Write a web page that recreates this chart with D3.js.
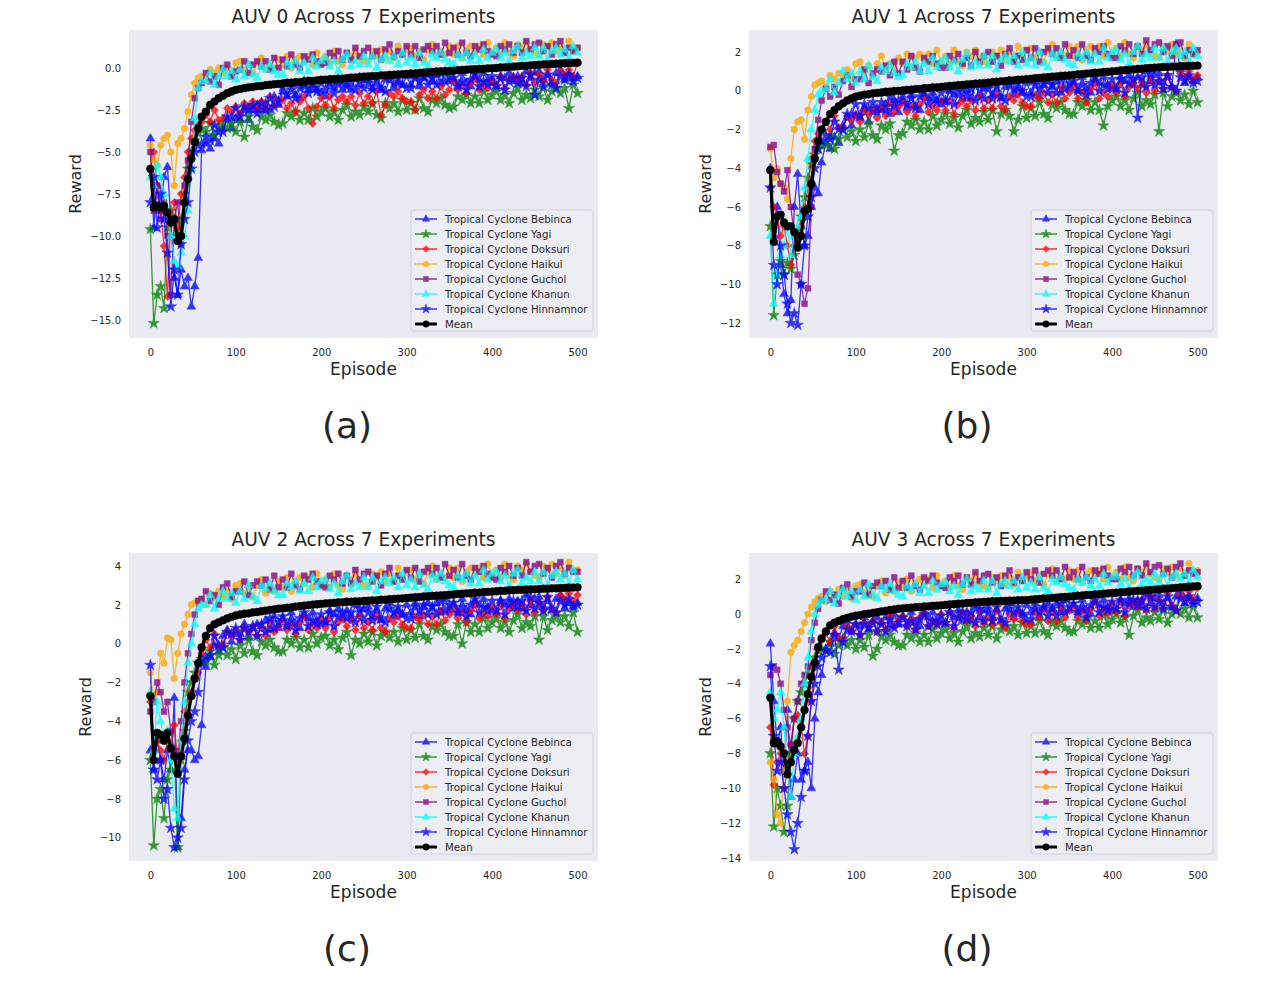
<html>
<head>
    <meta charset="utf-8">
    <title>AUV Reward Across 7 Experiments</title>
</head>

<style>
    body { margin: 0; background: #ffffff; }
    text { font-family: "DejaVu Sans", sans-serif; fill: #262626; }
</style>
<body>
<svg width="1269" height="990"></svg>

<script src="https://d3js.org/d3.v7.min.js" charset="utf-8"></script>
<script>

    var episodes = [0, 4, 8, 12, 16, 20, 24, 28, 32, 36, 40, 44, 48, 52, 56, 60,
        65, 70, 75, 80, 85, 90, 95, 100,
        105, 110, 115, 120, 125, 130, 135, 140, 145, 150,
        155, 160, 165, 170, 175, 180, 185, 190, 195, 200,
        205, 210, 215, 220, 225, 230, 235, 240, 245, 250,
        255, 260, 265, 270, 275, 280, 285, 290, 295, 300,
        305, 310, 315, 320, 325, 330, 335, 340, 345, 350,
        355, 360, 365, 370, 375, 380, 385, 390, 395, 400,
        405, 410, 415, 420, 425, 430, 435, 440, 445, 450,
        455, 460, 465, 470, 475, 480, 485, 490, 495, 500];

    var seriesNames = ['Tropical Cyclone Bebinca', 'Tropical Cyclone Yagi', 'Tropical Cyclone Doksuri',
        'Tropical Cyclone Haikui', 'Tropical Cyclone Guchol', 'Tropical Cyclone Khanun',
        'Tropical Cyclone Hinnamnor', 'Mean'];

    var xTicks = [0, 100, 200, 300, 400, 500];
    var yTicksAuv0 = [-15, -12.5, -10, -7.5, -5, -2.5, 0];
    var yTicksAuv1 = [-12, -10, -8, -6, -4, -2, 0, 2];
    var yTicksAuv2 = [-10, -8, -6, -4, -2, 0, 2, 4];
    var yTicksAuv3 = [-14, -12, -10, -8, -6, -4, -2, 0, 2];

    // ---- AUV 0 ----
    var auv0Bebinca = [-4.2,-9.5,-7.0,-8.5,-6.5,-5.9,-9.0,-12.5,-13.5,-12.0,-13.0,-12.5,-14.2,-13.0,-11.3,-4.9,
        -4.5,-4.8,-4.2,-4.5,-3.6,-3.1,-3.6,-3.0,
        -3.1,-2.5,-3.1,-2.5,-2.2,-2.5,-2.1,-2.5,-1.7,-2.2,
        -1.4,-1.7,-1.0,-1.6,-1.8,-1.1,-1.3,-1.0,-1.3,-1.5,
        -1.7,-1.0,-1.2,-0.8,-1.3,-1.0,-1.3,-0.6,-1.0,-0.7,
        -0.7,-1.2,-0.9,-1.3,-0.7,-0.5,-1.2,-0.9,-1.0,-0.5,
        -1.0,-0.5,-1.1,-0.6,-0.4,-0.8,-0.4,-0.9,-0.2,-0.8,
        -0.7,-1.1,-0.3,-0.9,-1.1,-0.5,-0.7,-0.3,-0.7,-0.9,
        -1.1,-0.5,-0.6,-0.3,-0.8,-0.5,-0.9,-0.2,-0.6,-0.3,
        -0.2,-0.7,-0.4,-0.9,-0.3,-0.1,-0.7,-0.4,-0.6,-0.5];
    var auv0Yagi = [-9.6,-15.2,-13.5,-13.0,-14.3,-9.5,-8.5,-9.0,-10.0,-9.0,-7.5,-6.0,-5.0,-4.3,-3.9,-3.6,
        -3.8,-3.3,-4.0,-3.5,-3.2,-3.6,-3.3,-3.8,
        -3.2,-4.1,-2.9,-3.5,-3.7,-2.9,-3.1,-2.8,-3.2,-3.4,
        -3.3,-2.7,-2.9,-2.6,-3.1,-2.7,-3.1,-2.4,-2.9,-2.6,
        -2.4,-2.9,-2.6,-3.1,-2.5,-2.2,-2.9,-2.6,-2.8,-2.3,
        -2.6,-2.1,-2.8,-3.0,-2.1,-2.4,-2.1,-2.6,-1.9,-2.5,
        -2.1,-2.5,-1.8,-2.4,-2.6,-1.9,-2.1,-1.8,-2.2,-2.4,
        -2.3,-1.7,-1.9,-1.6,-2.1,-1.7,-2.1,-1.4,-1.9,-1.6,
        -1.4,-1.9,-1.6,-2.1,-1.5,-1.2,-1.9,-1.6,-1.8,-1.3,
        -1.7,-1.2,-1.9,-1.4,-1.2,-1.5,-1.2,-2.4,-1.0,-1.5];
    var auv0Doksuri = [-6.0,-5.0,-7.0,-8.5,-10.6,-13.6,-9.0,-8.0,-9.5,-7.5,-6.5,-5.0,-4.2,-3.7,-3.4,-3.2,
        -2.8,-3.2,-2.5,-3.1,-3.0,-2.4,-2.6,-2.3,
        -2.7,-2.1,-2.3,-2.0,-2.5,-2.0,-2.4,-1.7,-2.2,-1.9,
        -1.9,-2.4,-2.1,-2.6,-2.0,-1.7,-2.4,-3.3,-2.3,-1.8,
        -2.2,-1.7,-2.4,-1.9,-1.7,-2.0,-1.7,-2.2,-1.5,-2.1,
        -1.7,-2.1,-1.4,-2.8,-2.2,-1.5,-1.7,-1.4,-1.8,-2.0,
        -2.0,-2.5,-1.6,-1.3,-1.8,-1.4,-1.8,-1.1,-1.6,-1.3,
        -0.8,-1.3,-1.0,-1.5,-0.9,-0.6,-1.3,-1.0,-1.2,-0.7,
        -1.0,-0.5,-1.2,-0.7,-0.5,-0.8,-0.5,-1.0,-0.3,-0.9,
        -0.4,-0.8,-0.1,-0.7,-0.9,-0.2,-0.4,-0.1,-0.5,0.3];
    var auv0Haikui = [-4.6,-5.5,-5.8,-4.6,-4.2,-4.0,-5.0,-7.0,-4.5,-4.2,-3.6,-2.6,-1.6,-0.9,-0.6,-0.5,
        -0.7,-0.1,-0.3,0.0,-0.3,0.0,-0.4,0.3,
        0.4,-0.1,0.2,-0.3,0.3,0.6,-0.1,0.2,0.0,0.5,
        0.2,0.7,0.0,0.5,0.7,0.4,0.7,0.2,0.9,0.3,
        0.7,0.3,1.0,0.4,0.2,0.9,0.7,1.0,0.6,0.4,
        0.4,1.0,0.8,1.1,0.6,1.0,0.6,1.3,0.8,1.1,
        1.2,0.7,1.0,0.5,1.1,1.4,0.7,1.0,0.8,1.3,
        0.8,1.3,0.6,1.1,1.3,1.0,1.3,0.8,1.5,0.9,
        1.2,0.8,1.5,0.9,0.7,1.4,1.2,1.5,1.1,0.9,
        0.8,1.4,1.2,1.5,1.0,1.3,0.9,1.6,1.1,1.2];
    var auv0Guchol = [-5.0,-8.5,-7.0,-9.0,-8.0,-10.0,-13.5,-9.0,-8.0,-10.5,-7.0,-5.5,-3.2,-1.8,-1.2,-0.9,
        -0.3,-0.8,-0.5,-1.0,0.0,0.2,-0.5,-0.2,
        -0.1,0.4,-0.3,0.2,0.4,0.1,0.4,-0.1,0.6,0.0,
        0.5,0.1,0.8,0.2,0.0,0.7,0.5,0.8,0.4,0.2,
        0.3,0.9,0.7,1.0,0.5,0.9,0.5,1.2,0.7,1.0,
        1.2,0.7,1.0,0.5,1.1,1.4,0.7,1.0,0.8,1.3,
        0.8,1.3,0.6,1.1,1.3,1.0,1.3,0.8,1.5,0.9,
        1.2,0.8,1.5,0.9,0.7,1.3,1.1,1.4,1.0,0.8,
        0.7,1.3,1.1,1.4,0.9,1.3,0.9,1.6,1.1,1.4,
        1.5,1.0,1.3,0.8,1.4,1.6,0.9,1.2,1.0,1.2];
    var auv0Khanun = [-6.5,-7.0,-5.8,-6.5,-7.5,-8.5,-10.0,-11.5,-11.8,-11.0,-10.0,-8.5,-6.0,-3.0,-1.2,-0.8,
        -0.8,-0.3,-1.0,-0.5,-0.1,-0.5,-0.2,-0.7,
        -0.1,-0.5,0.2,-0.4,-0.6,0.1,-0.1,0.2,-0.2,-0.4,
        -0.4,0.3,0.1,0.4,-0.2,0.3,-0.2,0.6,0.1,0.4,
        0.6,0.1,0.4,-0.2,0.5,0.8,0.1,0.4,0.2,0.7,
        0.2,0.7,0.0,0.5,0.7,0.4,0.7,0.2,0.9,0.3,
        0.6,0.2,0.9,0.3,0.1,0.8,0.6,0.9,0.5,0.3,
        0.2,0.8,0.6,0.9,0.4,0.8,0.4,1.1,0.6,0.9,
        1.1,0.6,0.9,0.4,1.0,1.3,0.6,0.9,0.7,1.2,
        0.7,1.2,0.5,1.0,1.2,0.8,1.1,0.6,1.3,0.9];
    var auv0Hinnamnor = [-8.0,-6.5,-9.5,-7.5,-9.0,-11.0,-14.2,-12.0,-13.5,-10.5,-9.0,-8.0,-6.0,-5.0,-4.6,-4.5,
        -4.1,-4.3,-3.4,-3.8,-3.8,-2.9,-2.9,-2.4,
        -2.9,-2.3,-2.5,-2.2,-2.7,-2.1,-2.5,-1.8,-2.3,-2.0,
        -1.1,-1.6,-1.3,-1.8,-1.2,-0.8,-1.5,-1.2,-1.4,-0.9,
        -1.3,-0.8,-1.5,-1.0,-0.8,-1.1,-0.8,-1.3,-0.6,-1.2,
        -0.9,-1.3,-0.6,-1.2,-1.4,-0.7,-0.9,-0.6,-1.0,-1.2,
        -1.2,-0.6,-0.8,-0.5,-1.0,-0.6,-1.0,-0.3,-0.8,-0.5,
        -0.6,-1.1,-0.8,-1.3,-0.7,-0.4,-1.1,-0.8,-1.0,-0.5,
        -1.1,-0.6,-1.3,-0.8,-0.6,-0.9,-0.6,-1.1,-0.4,-1.6,
        -0.7,-1.1,-0.4,-1.0,-1.2,-0.5,-0.7,-0.4,-0.8,-0.6];
    var auv0Mean = [-6.0,-8.3,-8.2,-8.3,-8.2,-8.6,-9.2,-9.0,-10.3,-10.0,-8.0,-6.6,-5.4,-4.4,-3.6,-2.9,
        -2.6,-2.2,-2.0,-1.8,-1.65,-1.5,-1.4,-1.3,
        -1.25,-1.2,-1.15,-1.13,-1.08,-1.07,-1.02,-1.0,-0.97,-0.95,
        -0.92,-0.88,-0.88,-0.84,-0.84,-0.8,-0.76,-0.77,-0.74,-0.7,
        -0.7,-0.67,-0.66,-0.63,-0.63,-0.6,-0.57,-0.57,-0.54,-0.51,
        -0.5,-0.48,-0.48,-0.44,-0.44,-0.41,-0.4,-0.39,-0.37,-0.36,
        -0.33,-0.32,-0.29,-0.28,-0.25,-0.24,-0.21,-0.2,-0.19,-0.17,
        -0.16,-0.13,-0.12,-0.1,-0.08,-0.07,-0.05,-0.05,-0.02,-0.02,
        0.0,0.03,0.04,0.07,0.08,0.1,0.13,0.13,0.16,0.18,
        0.19,0.21,0.22,0.24,0.25,0.27,0.28,0.3,0.3,0.32];

    // ---- AUV 1 ----
    var auv1Bebinca = [-4.0,-7.5,-6.0,-9.0,-10.5,-11.5,-10.8,-6.0,-4.3,-7.0,-8.0,-7.5,-6.0,-5.0,-5.3,-3.7,
        -2.7,-3.0,-2.4,-2.7,-1.8,-1.4,-1.8,-1.3,
        -1.4,-0.9,-1.6,-1.1,-0.9,-1.0,-0.7,-1.2,-0.5,-1.1,
        -0.5,-0.9,-0.2,-0.8,-1.0,-0.2,-0.4,-0.1,-0.5,-0.7,
        -0.6,0.0,-0.2,0.1,-0.4,0.0,-0.4,0.3,-0.2,0.1,
        0.3,-0.2,0.1,-0.4,0.2,0.5,-0.2,0.1,-0.1,0.4,
        -0.1,0.5,-0.3,0.3,0.5,0.2,0.5,-0.1,0.7,0.1,
        0.4,0.0,0.7,0.1,-0.1,0.6,0.4,0.7,0.3,0.1,
        0.1,0.7,0.5,0.8,0.3,0.7,0.3,1.0,0.5,0.8,
        0.9,0.4,0.7,0.2,2.4,1.1,0.4,0.7,0.5,0.7];
    var auv1Yagi = [-7.0,-11.6,-9.5,-8.8,-9.5,-8.9,-9.2,-8.5,-7.5,-6.5,-5.5,-4.5,-3.8,-3.3,-3.0,-2.8,
        -2.8,-2.3,-3.0,-2.5,-2.0,-2.4,-2.1,-2.6,
        -2.0,-2.4,-1.7,-2.3,-2.5,-1.8,-2.0,-1.7,-3.1,-2.3,
        -2.2,-1.6,-1.8,-1.5,-2.0,-1.6,-2.0,-1.3,-1.8,-1.5,
        -1.2,-1.7,-1.4,-1.9,-1.3,-1.0,-1.7,-1.4,-1.6,-1.1,
        -1.5,-1.0,-2.1,-1.2,-1.0,-1.3,-2.1,-1.5,-0.8,-1.4,
        -0.9,-1.3,-0.6,-1.2,-1.4,-0.7,-0.9,-0.6,-1.0,-1.2,
        -1.2,-0.6,-0.8,-0.5,-1.0,-0.6,-1.0,-1.8,-0.8,-0.5,
        -0.3,-0.8,-0.5,-1.0,-0.4,-0.1,-0.8,-0.5,-0.7,-0.2,
        -2.1,-0.1,-0.8,-0.3,-0.1,-0.5,-0.2,-0.7,0.0,-0.6];
    var auv1Doksuri = [-5.0,-6.0,-6.5,-7.5,-7.0,-8.0,-9.0,-8.0,-7.5,-7.0,-6.0,-5.0,-3.5,-2.6,-2.2,-2.0,
        -1.6,-2.0,-1.3,-1.9,-1.9,-1.3,-1.5,-1.2,
        -1.6,-1.0,-1.2,-0.9,-1.4,-0.9,-1.3,-0.6,-1.1,-0.8,
        -0.6,-1.1,-0.8,-1.3,-0.7,-0.4,-1.1,-0.8,-1.0,-0.5,
        -1.0,-0.5,-1.2,-0.7,-0.5,-0.8,-0.5,-1.0,-0.3,-0.9,
        -0.5,-0.9,-0.2,-0.8,-1.0,-0.3,-0.5,-0.2,-0.6,-0.8,
        -0.8,-0.2,-0.4,-0.1,-0.6,-0.2,-0.6,0.2,-0.4,-0.1,
        0.2,-0.4,-0.1,-0.6,0.1,0.4,-0.4,-0.1,-0.3,0.3,
        -0.1,0.4,-0.3,0.2,0.4,0.1,0.4,-0.1,0.6,0.0,
        0.5,0.1,0.8,0.2,0.0,0.9,0.7,1.0,0.6,0.8];
    var auv1Haikui = [-3.0,-4.5,-4.0,-4.8,-5.0,-5.6,-3.5,-2.0,-1.6,-1.5,-2.5,-1.0,-0.3,0.3,0.4,0.5,
        0.2,0.8,0.6,0.9,0.8,1.1,0.7,1.4,
        1.5,1.0,1.3,0.8,1.4,1.8,1.1,1.4,1.2,1.7,
        1.4,1.9,1.2,1.7,1.9,1.6,1.9,1.4,2.1,1.5,
        1.8,1.4,2.1,1.5,1.3,2.0,1.8,2.1,1.7,1.5,
        1.4,2.0,1.8,2.1,1.6,2.0,1.6,2.3,1.8,2.1,
        2.2,1.7,2.0,1.5,2.1,2.4,1.7,2.0,1.8,2.3,
        1.8,2.3,1.6,2.1,2.3,2.0,2.3,1.8,2.5,1.9,
        2.2,1.8,2.5,1.9,1.7,2.3,2.1,2.4,2.0,1.8,
        1.7,2.3,2.1,2.4,1.9,2.1,1.7,2.4,1.9,2.0];
    var auv1Guchol = [-2.9,-2.8,-4.2,-4.8,-5.2,-4.1,-6.0,-7.5,-9.5,-10.0,-11.0,-10.2,-6.0,-3.0,-1.5,-0.5,
        0.1,-0.3,0.2,-0.2,0.5,0.8,0.2,0.6,
        0.6,1.1,0.4,0.9,1.1,1.0,1.3,0.8,1.5,0.9,
        1.5,1.1,1.8,1.2,1.0,1.7,1.5,1.8,1.4,1.2,
        1.2,1.8,1.6,1.9,1.4,1.7,1.3,2.0,1.5,1.8,
        2.0,1.5,1.8,1.3,1.9,2.2,1.5,1.8,1.6,2.1,
        1.7,2.2,1.5,2.0,2.2,1.9,2.2,1.7,2.4,1.8,
        2.1,1.7,2.4,1.8,1.6,2.2,2.0,2.3,1.9,1.7,
        1.7,2.3,2.1,2.4,1.9,2.3,1.9,2.6,2.1,2.4,
        2.5,2.0,2.3,1.8,2.4,2.5,1.8,2.1,1.9,2.1];
    var auv1Khanun = [-7.5,-11.0,-9.5,-8.5,-8.0,-7.0,-8.5,-7.5,-7.0,-6.5,-5.0,-3.5,-2.0,-1.0,-0.2,0.0,
        0.1,0.6,-0.1,0.4,1.0,0.6,0.9,0.4,
        1.0,0.6,1.3,0.7,0.5,1.2,1.0,1.3,0.9,0.7,
        0.8,1.4,1.2,1.5,1.0,1.4,1.0,1.7,1.2,1.5,
        1.7,1.2,1.5,1.0,1.6,1.9,1.2,1.5,1.3,1.8,
        1.3,1.8,1.1,1.6,1.8,1.5,1.8,1.3,2.0,1.4,
        1.7,1.3,2.0,1.4,1.2,1.9,1.7,2.0,1.6,1.4,
        1.3,1.9,1.7,2.0,1.5,1.9,1.5,2.2,1.7,2.0,
        2.1,1.6,1.9,1.4,2.0,2.3,1.6,1.9,1.7,2.2,
        1.7,2.2,1.5,2.0,2.2,1.8,2.0,1.5,2.2,1.8];
    var auv1Hinnamnor = [-5.0,-9.0,-10.0,-8.0,-9.5,-11.0,-12.0,-11.5,-12.1,-10.0,-8.0,-6.5,-5.5,-4.0,-3.0,-2.6,
        -2.3,-2.5,-1.6,-2.0,-2.0,-1.2,-1.2,-0.7,
        -1.3,-0.7,-0.9,-0.6,-1.1,-0.6,-1.0,-0.3,-0.8,-0.5,
        -0.2,-0.7,-0.4,-0.9,-0.3,0.0,-0.7,-0.4,-0.6,-0.1,
        -0.5,0.1,-0.7,-0.2,0.1,-0.3,0.1,-0.5,0.3,-0.4,
        0.1,-0.4,0.4,-0.3,-0.5,0.3,0.1,0.4,0.0,-0.3,
        -0.3,0.3,0.1,0.4,-0.1,0.3,-0.1,0.6,0.1,0.4,
        0.5,0.0,0.3,-0.2,0.4,0.7,0.0,0.3,0.1,0.6,
        0.1,0.6,-0.1,0.4,0.6,-1.4,0.7,0.2,0.9,0.3,
        0.5,0.1,0.8,0.2,0.0,0.7,0.5,0.8,0.4,0.5];
    var auv1Mean = [-4.1,-7.8,-6.5,-6.4,-6.8,-7.0,-7.0,-7.3,-8.1,-7.5,-6.2,-6.1,-4.8,-3.5,-2.6,-2.0,
        -1.6,-1.2,-1.0,-0.8,-0.65,-0.5,-0.4,-0.3,
        -0.25,-0.2,-0.18,-0.13,-0.11,-0.09,-0.05,-0.04,-0.01,0.0,
        0.02,0.05,0.06,0.09,0.1,0.13,0.14,0.17,0.18,0.2,
        0.22,0.25,0.26,0.29,0.3,0.33,0.34,0.37,0.38,0.4,
        0.42,0.45,0.46,0.49,0.5,0.53,0.54,0.57,0.58,0.6,
        0.62,0.65,0.66,0.69,0.7,0.73,0.74,0.77,0.78,0.8,
        0.82,0.85,0.86,0.89,0.9,0.93,0.94,0.97,0.98,1.0,
        1.02,1.05,1.06,1.09,1.1,1.13,1.14,1.17,1.18,1.2,
        1.21,1.23,1.23,1.25,1.25,1.27,1.27,1.29,1.29,1.3];

    // ---- AUV 2 ----
    var auv2Bebinca = [-5.5,-6.5,-5.0,-6.0,-7.0,-5.5,-6.5,-2.8,-10.5,-9.0,-6.5,-5.5,-5.5,-6.0,-5.8,-4.2,
        -1.2,-0.7,-0.1,-0.4,0.4,0.7,0.1,0.5,
        0.5,1.0,0.3,0.8,1.0,0.9,1.2,0.7,1.4,0.8,
        1.3,0.9,1.6,1.0,0.8,1.5,1.3,1.6,1.2,1.0,
        1.1,1.7,1.5,1.8,1.3,1.7,1.3,2.0,1.5,1.8,
        1.9,1.4,1.7,1.2,1.8,2.1,1.4,1.7,1.5,2.0,
        1.6,2.1,1.4,1.9,2.1,1.8,2.1,1.6,2.3,1.7,
        2.0,1.6,2.3,1.7,1.5,2.2,2.0,2.3,1.9,1.7,
        1.6,2.2,2.0,2.3,1.8,2.2,1.8,2.5,2.0,2.3,
        2.4,1.9,2.2,1.7,2.3,2.5,1.8,2.1,1.9,2.1];
    var auv2Yagi = [-6.0,-10.4,-8.0,-7.5,-9.0,-7.0,-6.5,-5.5,-10.5,-6.0,-4.5,-2.5,-2.0,-1.5,-1.0,-0.8,
        -0.9,-0.4,-1.1,-0.6,-0.2,-0.6,-0.3,-0.8,
        -0.1,-0.5,0.2,-0.4,-0.6,0.1,-0.1,0.2,-0.2,-0.4,
        -0.4,0.2,0.0,0.3,-0.2,0.2,-0.2,0.5,0.0,0.3,
        0.4,-0.1,0.2,-0.3,0.3,0.6,-0.6,0.2,0.0,0.5,
        0.1,0.6,-0.1,0.4,0.6,0.3,0.6,0.1,0.8,0.2,
        0.7,0.3,1.0,0.4,0.2,0.9,0.7,1.0,0.6,0.4,
        0.4,1.0,0.0,1.1,0.6,1.0,0.6,1.3,0.8,1.1,
        1.3,0.8,1.1,0.6,1.2,1.5,0.8,1.1,0.9,1.4,
        0.2,1.4,0.7,1.2,1.4,1.1,1.4,0.9,1.6,0.6];
    var auv2Doksuri = [-3.0,-5.5,-5.0,-5.5,-6.0,-5.0,-5.5,-4.2,-6.0,-5.0,-3.5,-3.0,-2.5,-1.7,-1.5,-0.5,
        0.2,-0.2,0.5,-0.1,0.0,0.6,0.4,0.7,
        0.2,0.8,0.6,0.9,0.4,0.8,0.4,1.1,0.6,0.9,
        1.2,0.7,1.0,0.5,1.1,1.4,0.7,1.0,0.8,1.3,
        0.8,1.3,0.6,1.1,1.3,0.9,1.2,0.7,1.4,0.8,
        1.1,0.7,1.4,0.8,0.6,1.3,1.1,1.4,1.0,0.8,
        0.8,1.4,1.2,1.5,1.0,1.4,1.0,1.7,1.2,1.5,
        1.8,1.3,1.6,1.1,1.7,2.0,1.3,1.6,1.4,1.9,
        1.5,2.0,1.3,1.8,2.0,1.7,2.0,1.5,2.2,1.6,
        2.1,1.7,2.4,1.8,1.6,2.5,2.3,2.6,2.2,2.5];
    var auv2Haikui = [-1.5,-3.0,-2.5,-0.5,-1.0,0.3,0.2,-1.8,-0.5,0.5,1.0,1.5,2.0,2.1,2.2,2.3,
        2.0,2.6,2.4,2.7,2.4,2.7,2.3,3.0,
        3.1,2.6,2.9,2.4,3.0,3.3,2.6,2.9,2.7,3.2,
        2.9,3.4,2.7,3.2,3.4,3.1,3.4,2.9,3.6,3.0,
        3.3,2.9,3.6,3.0,2.8,3.5,3.3,3.6,3.2,3.0,
        3.0,3.6,3.4,3.7,3.2,3.6,3.2,3.9,3.4,3.7,
        3.8,3.3,3.6,3.1,3.7,4.0,3.3,3.6,3.4,3.9,
        3.4,3.9,3.2,3.7,3.9,3.6,3.9,3.4,4.1,3.5,
        3.8,3.4,4.1,3.5,3.3,4.0,3.8,4.1,3.7,3.5,
        3.4,4.0,3.8,4.1,3.6,3.9,3.5,4.2,3.7,3.8];
    var auv2Guchol = [-3.5,-3.0,-2.0,-2.5,-3.5,-3.0,-4.5,-5.5,-6.0,-4.0,-2.0,-0.5,0.5,1.5,2.2,2.3,
        2.7,2.2,2.5,2.0,2.9,3.1,2.4,2.7,
        2.7,3.2,2.5,3.0,3.2,3.0,3.3,2.8,3.5,2.9,
        3.3,2.9,3.6,3.0,2.8,3.5,3.3,3.6,3.2,3.0,
        2.9,3.5,3.3,3.6,3.1,3.5,3.1,3.8,3.3,3.6,
        3.7,3.2,3.5,3.0,3.6,3.9,3.2,3.5,3.3,3.8,
        3.4,3.9,3.2,3.7,3.9,3.6,3.9,3.4,4.1,3.5,
        3.8,3.4,4.1,3.5,3.3,3.9,3.7,4.0,3.6,3.4,
        3.3,3.9,3.7,4.0,3.5,3.9,3.5,4.2,3.7,4.0,
        4.1,3.6,3.9,3.4,4.0,4.2,3.6,3.9,3.7,3.7];
    var auv2Khanun = [-2.5,-5.5,-3.0,-4.0,-5.0,-4.5,-6.0,-8.5,-9.0,-5.0,-3.0,-1.0,0.0,1.0,1.8,2.0,
        2.0,2.5,1.8,2.3,2.7,2.3,2.6,2.1,
        2.7,2.3,3.0,2.4,2.2,3.0,2.8,3.1,2.7,2.5,
        2.5,3.1,2.9,3.2,2.7,3.1,2.7,3.4,2.9,3.2,
        3.3,2.8,3.1,2.6,3.2,3.5,2.8,3.1,2.9,3.4,
        2.9,3.4,2.7,3.2,3.4,3.1,3.4,2.9,3.6,3.0,
        3.3,2.9,3.6,3.0,2.8,3.5,3.3,3.6,3.2,3.0,
        2.9,3.5,3.3,3.6,3.1,3.5,3.1,3.8,3.3,3.6,
        3.7,3.2,3.5,3.0,3.6,3.8,3.1,3.4,3.2,3.7,
        3.2,3.7,3.0,3.5,3.7,3.3,3.6,3.1,3.8,3.3];
    var auv2Hinnamnor = [-1.1,-6.5,-7.0,-6.0,-8.0,-7.5,-9.5,-10.5,-10.0,-9.5,-7.0,-5.0,-4.0,-3.5,-2.5,-1.0,
        -0.7,-0.6,0.4,-0.1,-0.2,0.6,0.5,0.8,
        0.2,0.8,0.6,0.9,0.4,1.0,0.6,1.3,0.8,1.1,
        1.4,0.9,1.2,0.7,1.3,1.6,0.9,1.2,1.0,1.5,
        1.1,1.6,0.9,1.4,1.6,1.3,1.6,1.1,1.8,1.2,
        1.6,1.2,1.9,1.3,1.1,1.8,1.6,1.9,1.5,1.3,
        1.3,1.9,1.7,2.0,1.5,1.9,1.5,2.2,1.7,2.0,
        2.1,1.6,1.9,1.4,2.0,2.3,1.6,1.9,1.7,2.2,
        1.7,2.2,1.5,2.0,2.2,1.9,2.2,1.7,2.4,1.8,
        2.1,1.7,2.4,1.8,1.6,2.2,2.0,2.3,1.9,2.0];
    var auv2Mean = [-2.7,-6.0,-4.6,-4.7,-5.0,-4.6,-5.4,-5.8,-6.7,-5.8,-4.9,-3.7,-2.7,-1.8,-1.0,-0.2,
        0.4,0.8,1.0,1.1,1.2,1.3,1.38,1.45,
        1.5,1.54,1.56,1.61,1.63,1.67,1.7,1.74,1.76,1.8,
        1.82,1.85,1.87,1.91,1.93,1.96,1.98,2.01,2.03,2.05,
        2.07,2.09,2.1,2.13,2.13,2.16,2.16,2.18,2.18,2.2,
        2.21,2.23,2.23,2.26,2.26,2.29,2.3,2.32,2.33,2.35,
        2.37,2.39,2.4,2.43,2.44,2.46,2.47,2.49,2.5,2.52,
        2.53,2.56,2.57,2.59,2.6,2.63,2.63,2.66,2.67,2.68,
        2.7,2.72,2.72,2.75,2.75,2.77,2.77,2.79,2.79,2.8,
        2.81,2.83,2.83,2.85,2.85,2.87,2.87,2.89,2.89,2.9];

    // ---- AUV 3 ----
    var auv3Bebinca = [-1.7,-5.0,-7.5,-6.5,-9.0,-5.5,-10.5,-9.5,-8.0,-9.5,-9.0,-8.5,-10.0,-6.0,-4.5,-3.5,
        -2.0,-1.7,-1.1,-1.4,-0.7,-0.4,-1.0,-0.6,
        -0.7,-0.2,-0.9,-0.4,-0.2,-0.5,-0.2,-0.7,0.0,-0.6,
        -0.2,-0.6,0.1,-0.5,-0.7,0.0,-0.2,0.1,-0.3,-0.5,
        -0.6,0.1,-0.2,0.2,-0.4,0.1,-0.4,0.4,-0.2,0.2,
        0.4,-0.2,0.2,-0.4,0.3,0.6,-0.2,0.2,0.0,0.5,
        0.1,0.6,-0.2,0.4,0.6,0.3,0.6,0.1,0.8,0.2,
        0.5,0.1,0.8,0.2,0.0,0.7,0.5,0.8,0.4,0.2,
        0.2,0.8,0.6,0.9,0.4,0.8,0.4,1.1,0.6,0.9,
        1.1,0.6,0.9,0.4,1.0,1.3,0.6,0.9,0.7,0.9];
    var auv3Yagi = [-8.0,-12.2,-10.0,-11.0,-12.5,-11.0,-8.0,-6.0,-5.0,-4.5,-4.0,-3.5,-3.0,-2.5,-2.1,-2.0,
        -2.1,-1.6,-2.3,-1.8,-1.4,-1.8,-1.5,-2.0,
        -1.5,-1.9,-1.2,-2.4,-2.0,-1.3,-1.5,-1.2,-1.6,-1.8,
        -1.8,-1.2,-1.4,-1.1,-1.6,-1.2,-1.6,-0.9,-1.4,-1.1,
        -0.9,-1.4,-1.1,-1.6,-1.0,-0.7,-1.4,-1.1,-1.3,-0.8,
        -1.2,-0.7,-1.4,-0.9,-0.7,-1.0,-0.7,-1.2,-0.5,-1.1,
        -0.7,-1.1,-0.4,-1.0,-1.2,-0.5,-0.7,-0.4,-0.8,-1.0,
        -1.0,-0.4,-0.6,-0.3,-0.8,-0.4,-0.8,-0.1,-0.6,-0.3,
        0.0,-0.5,-0.2,-1.2,-0.1,0.2,-0.5,-0.2,-0.4,0.1,
        -0.3,0.2,-0.5,0.0,0.2,0.0,0.3,-0.2,0.4,-0.2];
    var auv3Doksuri = [-6.5,-9.8,-8.5,-8.0,-10.0,-9.0,-7.5,-6.0,-5.8,-6.5,-8.0,-7.0,-5.0,-3.0,-2.0,-1.5,
        -1.1,-1.6,-0.7,-1.4,-1.4,-0.7,-1.0,-0.6,
        -1.2,-0.5,-0.7,-0.4,-1.0,-0.5,-0.9,-0.1,-0.7,-0.3,
        -0.1,-0.7,-0.3,-0.9,-0.2,0.1,-0.7,-0.4,-0.6,0.0,
        -0.5,0.1,-0.8,-0.2,0.1,-0.4,-0.1,-0.7,0.2,-0.5,
        -0.2,-0.6,0.2,-0.5,-0.8,0.0,-0.3,0.1,-0.4,-0.6,
        -0.6,0.1,-0.2,0.2,-0.4,0.1,-0.4,0.4,-0.2,0.2,
        0.4,-0.2,0.2,-0.4,0.3,0.7,-0.1,0.2,0.0,0.6,
        0.1,0.7,-0.1,0.5,0.7,0.4,0.8,0.2,1.0,0.3,
        0.8,0.3,1.2,0.5,0.2,1.1,0.9,1.3,0.8,1.5];
    var auv3Haikui = [-8.5,-9.5,-11.5,-12.0,-9.0,-5.0,-2.2,-1.8,-1.5,-1.0,-0.5,0.0,0.4,0.7,0.9,1.0,
        0.7,1.3,1.1,1.4,1.0,1.3,0.9,1.6,
        1.7,1.2,1.5,1.0,1.6,1.9,1.2,1.5,1.3,1.8,
        1.5,2.0,1.3,1.8,2.0,1.7,2.0,1.5,2.2,1.6,
        1.9,1.5,2.2,1.6,1.4,2.1,1.9,2.2,1.8,1.6,
        1.5,2.1,1.9,2.2,1.7,2.1,1.7,2.4,1.9,2.2,
        2.4,1.9,2.2,1.7,2.3,2.6,1.9,2.2,2.0,2.5,
        2.0,2.5,1.8,2.3,2.5,2.2,2.5,2.0,2.7,2.1,
        2.4,2.0,2.7,2.1,1.9,2.6,2.4,2.7,2.3,2.1,
        2.0,2.6,2.4,2.7,2.2,2.6,2.2,2.9,2.4,2.5];
    var auv3Guchol = [-3.5,-3.0,-3.2,-4.0,-5.5,-6.5,-7.5,-6.0,-5.0,-4.0,-3.5,-3.0,-1.5,-0.5,0.3,0.8,
        1.3,0.8,1.1,0.6,1.5,1.7,1.0,1.3,
        1.3,1.8,1.1,1.6,1.8,1.6,1.9,1.4,2.1,1.5,
        1.9,1.5,2.2,1.6,1.4,2.1,1.9,2.2,1.8,1.6,
        1.5,2.1,1.9,2.2,1.7,2.1,1.7,2.4,1.9,2.2,
        2.3,1.8,2.1,1.6,2.2,2.5,1.8,2.1,1.9,2.4,
        2.0,2.5,1.8,2.3,2.5,2.2,2.5,2.0,2.7,2.1,
        2.4,2.0,2.7,2.1,1.9,2.5,2.3,2.6,2.2,2.0,
        2.0,2.6,2.4,2.7,2.2,2.6,2.2,2.9,2.4,2.7,
        2.8,2.3,2.6,2.1,2.7,2.9,2.2,2.5,2.3,2.4];
    var auv3Khanun = [-4.5,-6.0,-5.5,-4.5,-6.5,-9.0,-10.5,-8.0,-7.0,-6.0,-4.0,-2.5,-1.0,0.0,0.5,0.8,
        0.8,1.3,0.6,1.1,1.4,1.0,1.3,0.8,
        1.4,1.0,1.7,1.1,0.9,1.6,1.4,1.7,1.3,1.1,
        1.0,1.6,1.4,1.7,1.2,1.6,1.2,1.9,1.4,1.7,
        1.8,1.3,1.6,1.1,1.7,2.0,1.3,1.6,1.4,1.9,
        1.4,1.9,1.2,1.7,1.9,1.6,1.9,1.4,2.1,1.5,
        1.8,1.4,2.1,1.5,1.3,2.0,1.8,2.1,1.7,1.5,
        1.4,2.0,1.8,2.1,1.6,2.0,1.6,2.3,1.8,2.1,
        2.2,1.7,2.0,1.5,2.1,2.4,1.7,2.0,1.8,2.3,
        1.8,2.3,1.6,2.1,2.3,2.0,2.3,1.8,2.5,2.1];
    var auv3Hinnamnor = [-3.0,-7.0,-9.0,-8.5,-10.0,-11.5,-12.5,-13.5,-12.0,-10.5,-9.0,-7.0,-5.0,-4.0,-3.0,-2.5,
        -2.1,-2.2,-1.2,-3.2,-1.6,-0.9,-1.0,-0.6,
        -1.2,-0.6,-0.8,-0.5,-1.0,-0.6,-1.0,-0.3,-0.8,-0.5,
        -0.2,-0.7,-0.4,-0.9,-0.3,0.0,-0.7,-0.4,-0.6,-0.1,
        -0.5,0.1,-0.7,-0.2,0.1,-0.3,0.1,-0.5,0.3,-0.4,
        0.1,-0.4,0.4,-0.3,-0.5,0.3,0.1,0.4,0.0,-0.3,
        -0.3,0.3,0.1,0.4,-0.1,0.3,-0.1,0.6,0.1,0.4,
        0.6,0.1,0.4,-0.2,0.5,0.8,0.1,0.4,0.2,0.7,
        0.3,0.8,0.1,0.6,0.8,0.5,0.8,0.3,1.0,0.4,
        0.7,0.3,1.0,0.4,0.2,0.9,0.7,1.0,0.6,0.7];
    var auv3Mean = [-4.8,-7.4,-7.3,-7.6,-8.0,-9.2,-8.5,-7.8,-7.4,-6.5,-5.5,-4.6,-3.6,-2.8,-1.9,-1.4,
        -1.0,-0.65,-0.5,-0.4,-0.3,-0.22,-0.15,-0.1,
        -0.06,-0.01,0.02,0.07,0.1,0.15,0.18,0.23,0.26,0.3,
        0.32,0.35,0.36,0.39,0.4,0.43,0.44,0.47,0.48,0.5,
        0.52,0.55,0.56,0.59,0.6,0.63,0.64,0.67,0.68,0.7,
        0.71,0.73,0.73,0.75,0.75,0.77,0.77,0.79,0.79,0.8,
        0.82,0.85,0.86,0.89,0.9,0.93,0.94,0.97,0.98,1.0,
        1.02,1.05,1.06,1.09,1.1,1.13,1.14,1.17,1.18,1.2,
        1.22,1.25,1.26,1.29,1.3,1.33,1.34,1.37,1.38,1.4,
        1.42,1.45,1.46,1.49,1.5,1.53,1.54,1.57,1.58,1.6];

    var colors = ['#0000ff', '#008000', '#ff0000', '#ffa500', '#800080', '#00ffff', '#0000ff', '#000000'];
    var symbols = [d3.symbolTriangle, d3.symbolStar, d3.symbolSquare, d3.symbolCircle,
        d3.symbolSquare, d3.symbolTriangle, d3.symbolStar, d3.symbolCircle];
    var symSize = [34, 40, 32, 34, 34, 34, 40, 48];

    var panels = [
        {title: 'AUV 0 Across 7 Experiments', tag: '(a)', left: 129, top: 30, ydom: [-16.07, 2.26],
            ticks: yTicksAuv0, fmt: d3.format('.1f'), lab: 54,
            data: [auv0Bebinca, auv0Yagi, auv0Doksuri, auv0Haikui, auv0Guchol, auv0Khanun, auv0Hinnamnor, auv0Mean]},
        {title: 'AUV 1 Across 7 Experiments', tag: '(b)', left: 749, top: 30, ydom: [-12.77, 3.14],
            ticks: yTicksAuv1, fmt: d3.format('d'), lab: 44,
            data: [auv1Bebinca, auv1Yagi, auv1Doksuri, auv1Haikui, auv1Guchol, auv1Khanun, auv1Hinnamnor, auv1Mean]},
        {title: 'AUV 2 Across 7 Experiments', tag: '(c)', left: 129, top: 553, ydom: [-11.2, 4.67],
            ticks: yTicksAuv2, fmt: d3.format('d'), lab: 44,
            data: [auv2Bebinca, auv2Yagi, auv2Doksuri, auv2Haikui, auv2Guchol, auv2Khanun, auv2Hinnamnor, auv2Mean]},
        {title: 'AUV 3 Across 7 Experiments', tag: '(d)', left: 749, top: 553, ydom: [-14.17, 3.5],
            ticks: yTicksAuv3, fmt: d3.format('d'), lab: 44,
            data: [auv3Bebinca, auv3Yagi, auv3Doksuri, auv3Haikui, auv3Guchol, auv3Khanun, auv3Hinnamnor, auv3Mean]}
    ];

    var W = 469, H = 308;
    var svg = d3.select('svg');
    svg.append('rect').attr('width', 1269).attr('height', 990).attr('fill', '#ffffff');

    function marker(g, i, x, y, scale) {
        var p = g.append('path')
            .attr('d', d3.symbol().type(symbols[i]).size(symSize[i] * (scale || 1))())
            .attr('fill', colors[i])
            .attr('stroke', colors[i])
            .attr('stroke-width', 0.5);
        // Doksuri uses a diamond: rotated square
        p.attr('transform', 'translate(' + x + ',' + y + ')' + (i === 2 ? ' rotate(45)' : ''));
        return p;
    }

    panels.forEach(function (pn) {
        var g = svg.append('g').attr('transform', 'translate(' + pn.left + ',' + pn.top + ')');
        var x = d3.scaleLinear().domain([-25, 524]).range([0, W]);
        var y = d3.scaleLinear().domain(pn.ydom).range([H, 0]);

        g.append('rect').attr('width', W).attr('height', H).attr('fill', '#eaeaf2');

        var xa = g.append('g').attr('transform', 'translate(0,' + H + ')')
            .call(d3.axisBottom(x).tickValues(xTicks).tickSize(0).tickPadding(10.5));
        var ya = g.append('g')
            .call(d3.axisLeft(y).tickValues(pn.ticks).tickSize(0).tickPadding(8).tickFormat(pn.fmt));
        [xa, ya].forEach(function (a) {
            a.select('.domain').remove();
            a.selectAll('text').attr('font-family', '"DejaVu Sans", sans-serif')
                .attr('font-size', 10).attr('fill', '#262626');
        });

        // series
        pn.data.forEach(function (vals, i) {
            var pts = vals.map(function (v, k) { return [episodes[k], v]; });
            var sg = g.append('g').attr('opacity', i === 7 ? 1 : 0.78);
            sg.append('path')
                .datum(pts)
                .attr('d', d3.line().x(function (d) { return x(d[0]); }).y(function (d) { return y(d[1]); }))
                .attr('fill', 'none')
                .attr('stroke', colors[i])
                .attr('stroke-width', i === 7 ? 3.2 : 1.3);
            pts.forEach(function (d) { marker(sg, i, x(d[0]), y(d[1])); });
        });

        // titles
        g.append('text').attr('x', W / 2).attr('y', -7).attr('text-anchor', 'middle')
            .attr('font-size', 18.6).text(pn.title);
        g.append('text').attr('x', W / 2).attr('y', H + 37).attr('text-anchor', 'middle')
            .attr('font-size', 17).text('Episode');
        g.append('text').attr('transform', 'translate(' + (-pn.lab) + ',' + (H / 2) + ') rotate(-90)')
            .attr('text-anchor', 'middle').attr('dy', '0.35em')
            .attr('font-size', 16).text('Reward');
        g.append('text').attr('x', 218).attr('y', H + 87).attr('text-anchor', 'middle')
            .attr('dy', '0.35em').attr('font-size', 36).text(pn.tag);

        // legend
        var lg = g.append('g').attr('transform', 'translate(282,180)');
        lg.append('rect').attr('width', 182).attr('height', 121).attr('rx', 3)
            .attr('fill', '#eeeef4').attr('fill-opacity', 0.8).attr('stroke', '#d2d2d8');
        seriesNames.forEach(function (name, i) {
            var ry = 9 + 15 * i;
            var it = lg.append('g').attr('opacity', i === 7 ? 1 : 0.78);
            it.append('line').attr('x1', 4).attr('x2', 26).attr('y1', ry).attr('y2', ry)
                .attr('stroke', colors[i]).attr('stroke-width', i === 7 ? 3 : 1.5);
            marker(it, i, 15, ry, 0.7);
            lg.append('text').attr('x', 34).attr('y', ry).attr('dy', '0.35em')
                .attr('font-size', 10.2).text(name);
        });
    });

</script>

</body>
</html>
